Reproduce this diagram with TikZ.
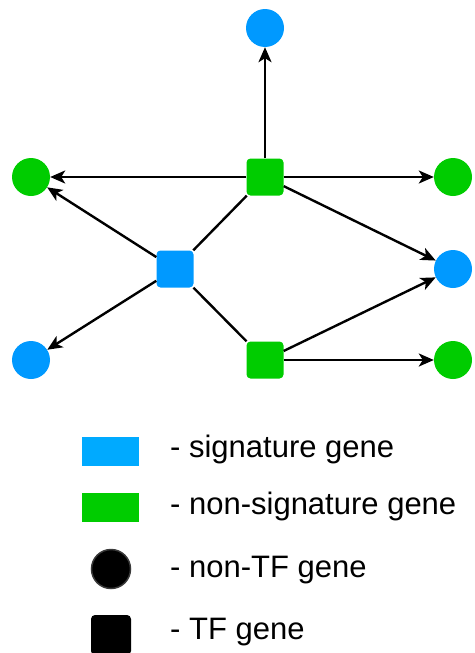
\documentclass[tikz,border=0pt]{standalone}
\usepackage{fontspec}
\setmainfont{Liberation Sans}
\usetikzlibrary{arrows.meta}
\definecolor{sigblue}{HTML}{0099FF}
\definecolor{legblue}{HTML}{00AAFF}
\definecolor{nsgreen}{HTML}{00CC00}
\definecolor{ringgray}{HTML}{3A3A3A}
\begin{document}
\begin{tikzpicture}[x=1pt, y=-1pt,
  tfsq/.style={rectangle, rounded corners=4pt, minimum size=37pt, inner sep=0pt, draw=none},
  gene/.style={circle, minimum size=38pt, inner sep=0pt, draw=none},
  link/.style={line width=2.4pt, black},
  arr/.style={link, -{Stealth[length=15pt, width=13pt, inset=4pt]}},
  legtext/.style={anchor=base west, inner sep=0pt, font=\fontsize{31}{35}\selectfont}]
  \useasboundingbox (0,0) rectangle (474,653);

  % regulatory network
  \node[tfsq, fill=nsgreen] (top) at (265,177) {};
  \node[tfsq, fill=sigblue] (hub) at (175,269) {};
  \node[tfsq, fill=nsgreen] (bot) at (265,360) {};

  \node[gene, fill=sigblue] (tA) at (265,28) {};
  \node[gene, fill=nsgreen] (lA) at (31,177) {};
  \node[gene, fill=sigblue] (lB) at (31,360) {};
  \node[gene, fill=nsgreen] (rA) at (453,177) {};
  \node[gene, fill=sigblue] (rB) at (453,269) {};
  \node[gene, fill=nsgreen] (rC) at (453,360) {};

  \draw[link] (hub) -- (top);
  \draw[link] (hub) -- (bot);
  \draw[arr] (top) -- (tA);
  \draw[arr] (top) -- (lA);
  \draw[arr] (top) -- (rA);
  \draw[arr] (top) -- (rB);
  \draw[arr] (hub) -- (lA);
  \draw[arr] (hub) -- (lB);
  \draw[arr] (bot) -- (rB);
  \draw[arr] (bot) -- (rC);

  % legend
  \node[rectangle, fill=legblue, minimum width=57pt, minimum height=29pt, inner sep=0pt] (kSig) at (110.5,451.5) {};
  \node[rectangle, fill=nsgreen, minimum width=57pt, minimum height=29pt, inner sep=0pt] (kNon) at (110.5,507.5) {};
  \node[circle, fill=black, draw=ringgray, line width=1.5pt, minimum size=39pt, inner sep=0pt] (kCirc) at (111,569) {};
  \node[rectangle, rounded corners=4pt, fill=black, minimum size=40pt, inner sep=0pt] (kSq) at (111,635) {};

  \node[legtext] (tSig) at (170,457) {- signature gene};
  \node[legtext] (tNon) at (170,514) {- non-signature gene};
  \node[legtext] (tCirc) at (170,577) {- non-TF gene};
  \node[legtext] (tSq) at (170,639) {- TF gene};
\end{tikzpicture}
\end{document}
